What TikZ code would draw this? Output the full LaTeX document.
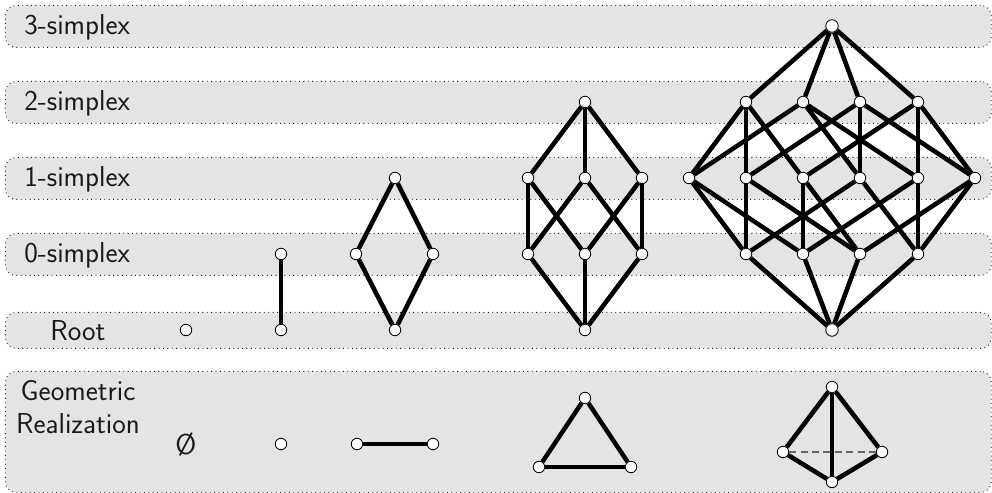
\documentclass[tikz,border=0pt]{standalone}
\usepackage{amsmath,amssymb}
\usepackage{tikz}
\usetikzlibrary{positioning}
\definecolor{bandbg}{HTML}{E4E4E4}
\definecolor{ink}{HTML}{1A1A1A}
\definecolor{mute}{HTML}{666666}

\begin{document}
\begin{tikzpicture}[
  x=0.02cm, y=-0.02cm,
  font=\sffamily,
  band/.style={draw=ink, dotted, line width=0.5pt, rounded corners=6pt, fill=bandbg,
               anchor=north west, minimum width=19.72cm, minimum height=0.84cm, inner sep=0pt},
  lbl/.style={font=\sffamily\fontsize{16.4}{18}\selectfont, text=ink, inner sep=0pt},
  vert/.style={circle, draw=black, fill=white, line width=0.5pt, minimum size=0.23cm, inner sep=0pt},
  apex/.style={vert, minimum size=0.25cm},
  edge/.style={line width=2.6pt, black},
  hidden/.style={line width=0.7pt, dash pattern=on 4pt off 2.5pt, mute},
]
\useasboundingbox (0,0) rectangle (992,493);

% ============================================================ BANDS
\node[band] (b3) at (5,5) {};
\node[band] (b2) at (5,81) {};
\node[band] (b1) at (5,157) {};
\node[band] (b0) at (5,233) {};
\node[band, minimum height=0.72cm] (broot) at (5,312) {};
\node[band, minimum height=2.42cm] (bgeo) at (5,371) {};

\node[lbl, anchor=west] (l3) at (24,27) {3-simplex};
\node[lbl, anchor=west] (l2) at (24,103) {2-simplex};
\node[lbl, anchor=west] (l1) at (24,179) {1-simplex};
\node[lbl, anchor=west] (l0) at (24,255) {0-simplex};
\node[lbl] (lroot) at (78,331) {Root};
\node[lbl] (lgeo) at (78,391) {Geometric};
\node[lbl] (lreal) at (78,424) {Realization};

% ============================================================ LATTICES
\node[vert] (e0) at (186,330) {};

\node[vert] (s0) at (281,254) {};
\node[vert] (s0r) at (281,330) {};
\draw[edge] (s0) -- (s0r);

\node[vert] (s1) at (395,178) {};
\node[vert] (s1a) at (356,254) {};
\node[vert] (s1b) at (433,254) {};
\node[vert] (s1r) at (395,330) {};
\draw[edge] (s1) -- (s1a);
\draw[edge] (s1) -- (s1b);
\draw[edge] (s1a) -- (s1r);
\draw[edge] (s1b) -- (s1r);

\node[vert] (s2) at (585,102) {};
\node[vert] (s2a) at (528,178) {};
\node[vert] (s2b) at (585,178) {};
\node[vert] (s2c) at (642,178) {};
\node[vert] (s2d) at (528,254) {};
\node[vert] (s2e) at (585,254) {};
\node[vert] (s2f) at (642,254) {};
\node[vert] (s2r) at (585,330) {};
\foreach \u/\v in {s2/s2a,s2/s2b,s2/s2c,s2a/s2d,s2a/s2e,s2b/s2d,s2b/s2f,s2c/s2e,s2c/s2f,s2d/s2r,s2e/s2r,s2f/s2r}
  \draw[edge] (\u) -- (\v);

\node[apex] (s3) at (832,26) {};
\node[vert] (s3a) at (746,102) {};
\node[vert] (s3b) at (803,102) {};
\node[vert] (s3c) at (860,102) {};
\node[vert] (s3d) at (918,102) {};
\node[vert] (s3e) at (689,178) {};
\node[vert] (s3f) at (746,178) {};
\node[vert] (s3g) at (803,178) {};
\node[vert] (s3h) at (860,178) {};
\node[vert] (s3i) at (918,178) {};
\node[vert] (s3j) at (975,178) {};
\node[vert] (s3k) at (746,254) {};
\node[vert] (s3l) at (803,254) {};
\node[vert] (s3m) at (860,254) {};
\node[vert] (s3n) at (918,254) {};
\node[apex] (s3r) at (832,330) {};
\foreach \u/\v in {s3/s3a,s3/s3b,s3/s3c,s3/s3d,
  s3a/s3e,s3a/s3f,s3a/s3g,s3b/s3e,s3b/s3h,s3b/s3i,s3c/s3f,s3c/s3h,s3c/s3j,s3d/s3g,s3d/s3i,s3d/s3j,
  s3e/s3k,s3e/s3l,s3f/s3k,s3f/s3m,s3g/s3l,s3g/s3m,s3h/s3k,s3h/s3n,s3i/s3l,s3i/s3n,s3j/s3m,s3j/s3n,
  s3k/s3r,s3l/s3r,s3m/s3r,s3n/s3r}
  \draw[edge] (\u) -- (\v);

% ============================================================ GEOMETRIC REALIZATION
\node[lbl] (g0) at (186,445) {\O};

\node[vert] (g1) at (281,444) {};

\node[vert] (g2a) at (357,444) {};
\node[vert] (g2b) at (433,444) {};
\draw[edge] (g2a) -- (g2b);

\node[vert] (g3a) at (585,398) {};
\node[vert] (g3b) at (539,467) {};
\node[vert] (g3c) at (631,467) {};
\draw[edge] (g3a) -- (g3b);
\draw[edge] (g3a) -- (g3c);
\draw[edge] (g3b) -- (g3c);

\node[vert] (g4a) at (832,387) {};
\node[vert] (g4b) at (783,452) {};
\node[vert] (g4c) at (882,452) {};
\node[vert] (g4d) at (832,482) {};
\draw[hidden] (g4b) -- (g4c);
\draw[edge] (g4a) -- (g4b);
\draw[edge] (g4a) -- (g4c);
\draw[edge] (g4a) -- (g4d);
\draw[edge] (g4b) -- (g4d);
\draw[edge] (g4c) -- (g4d);

\end{tikzpicture}
\end{document}
